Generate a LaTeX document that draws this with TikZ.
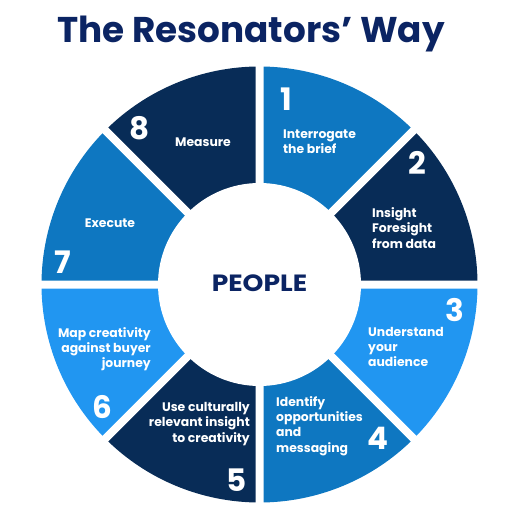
\documentclass[tikz,border=0pt]{standalone}
\usepackage{fontspec}
\setmainfont{Poppins}
\definecolor{navy}{HTML}{082C57}
\definecolor{midblue}{HTML}{0E77C1}
\definecolor{lightblue}{HTML}{2196F1}
\definecolor{titleblue}{HTML}{0B2463}

\begin{document}
\begin{tikzpicture}[x=1pt,y=1pt,yscale=-1,xscale=1,
	gapline/.style={draw=white,line width=8pt},
	numlabel/.style={text=white,font=\bfseries\fontsize{31}{31}\selectfont,inner sep=0pt},
	steplabel/.style={text=white,font=\bfseries\fontsize{12.4}{15.3}\selectfont,inner sep=0pt}]
	\useasboundingbox (0,0) rectangle (526,526);
	\coordinate (C) at (259.5,284.5);
	% ring segments, clockwise from the top
	\fill [midblue] (C) -- ++(-90:218) arc [start angle=-90,end angle=-45,radius=218] -- cycle;
	\fill [navy] (C) -- ++(-45:218) arc [start angle=-45,end angle=0,radius=218] -- cycle;
	\fill [lightblue] (C) -- ++(0:218) arc [start angle=0,end angle=45,radius=218] -- cycle;
	\fill [midblue] (C) -- ++(45:218) arc [start angle=45,end angle=90,radius=218] -- cycle;
	\fill [navy] (C) -- ++(90:218) arc [start angle=90,end angle=135,radius=218] -- cycle;
	\fill [lightblue] (C) -- ++(135:218) arc [start angle=135,end angle=180,radius=218] -- cycle;
	\fill [midblue] (C) -- ++(180:218) arc [start angle=180,end angle=225,radius=218] -- cycle;
	\fill [navy] (C) -- ++(225:218) arc [start angle=225,end angle=270,radius=218] -- cycle;
	% white gaps
	\draw [gapline] (C) -- ++(0:225) (C) -- ++(45:225) (C) -- ++(90:225) (C) -- ++(135:225);
	\draw [gapline] (C) -- ++(180:225) (C) -- ++(225:225) (C) -- ++(270:225) (C) -- ++(315:225);
	\fill [white] (C) circle (101.5);
	% title and centre
	\draw (251,43) node (title) [anchor=base,text=titleblue,font=\bfseries\fontsize{35.8}{36}\selectfont]    {The Resonators’ Way};
	\draw (259.5,291.5) node (people) [anchor=base,text=titleblue,font=\bfseries\fontsize{23.5}{24}\selectfont]    {\scalebox{1.13}[1]{PEOPLE}};
	% numbers
	\draw (286,99) node (num1) [numlabel]    {1};
	\draw (417,163) node (num2) [numlabel]    {2};
	\draw (455,310) node (num3) [numlabel]    {3};
	\draw (378,438) node (num4) [numlabel]    {4};
	\draw (237,480) node (num5) [numlabel]    {5};
	\draw (102,407) node (num6) [numlabel]    {6};
	\draw (63,262) node (num7) [numlabel]    {7};
	\draw (140,128) node (num8) [numlabel]    {8};
	% step texts
	\draw (283,141.5) node (step1) [steplabel,anchor=west,align=left]    {Interrogate\\the brief};
	\draw (372,228) node (step2) [steplabel,anchor=west,align=left]    {Insight\\Foresight\\from data};
	\draw (368,347) node (step3) [steplabel,anchor=west,align=left]    {Understand\\your\\audience};
	\draw (276,426) node (step4) [steplabel,anchor=west,align=left]    {Identify\\opportunities\\and\\messaging};
	\draw (250,424) node (step5) [steplabel,anchor=east,align=right]    {Use culturally\\relevant insight\\to creativity};
	\draw (151,349) node (step6) [steplabel,anchor=east,align=right]    {Map creativity\\against buyer\\journey};
	\draw (110,223) node (step7) [steplabel]    {Execute};
	\draw (203,142) node (step8) [steplabel]    {Measure};
\end{tikzpicture}
\end{document}
